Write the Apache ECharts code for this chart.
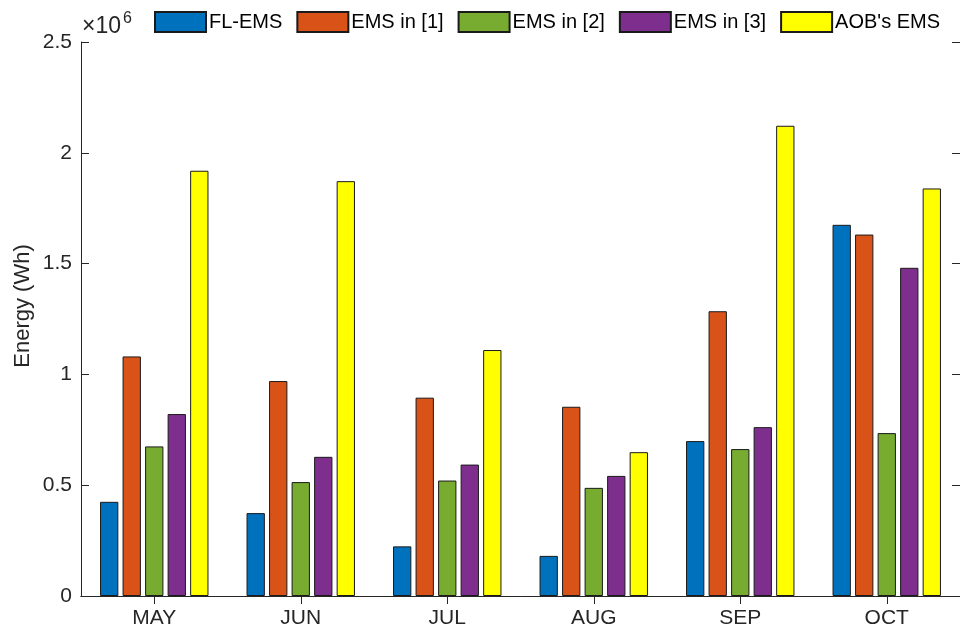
<!DOCTYPE html>
<html>
<head>
<meta charset="utf-8">
<script src="https://cdn.jsdelivr.net/npm/echarts@6/dist/echarts.min.js"></script>
<style>
  html, body { margin: 0; padding: 0; background: #fff; }
  #chart { width: 960px; height: 632px; }
</style>
</head>
<body>
<div id="chart"></div>
<script>
// Monthly energy (Wh) for each energy management scheme
const months = ['MAY', 'JUN', 'JUL', 'AUG', 'SEP', 'OCT'];
const flEms  = [425000, 374000, 224000, 181000, 699000, 1675000];
const ems1   = [1081000, 970000, 895000, 854000, 1285000, 1631000];
const ems2   = [675000, 514000, 521000, 488000, 663000, 735000];
const ems3   = [821000, 628000, 593000, 542000, 762000, 1481000];
const aobEms = [1919000, 1872000, 1110000, 649000, 2122000, 1839000];
const yTicks = [0, 0.5, 1, 1.5, 2, 2.5];   // in units of 10^6

const seriesDefs = [
  { name: 'FL-EMS',      data: flEms,  color: '#0072BD' },
  { name: 'EMS in [1]',  data: ems1,   color: '#D95319' },
  { name: 'EMS in [2]',  data: ems2,   color: '#77AC30' },
  { name: 'EMS in [3]',  data: ems3,   color: '#7E2F8E' },
  { name: "AOB's EMS",   data: aobEms, color: '#FFFF00' }
];

const FONT = "'Liberation Sans', Arial, sans-serif";
const AXIS = '#262626';
const SCALE = 1e6;

const chart = echarts.init(document.getElementById('chart'), null, { renderer: 'canvas' });

const commonAxisLine = { show: true, lineStyle: { color: AXIS, width: 1 } };
const tickStyle = { show: true, inside: true, length: 8, lineStyle: { color: AXIS } };

chart.setOption({
  animation: false,
  textStyle: { fontFamily: FONT },
  grid: { left: 81, right: -3, top: 42, bottom: 36, containLabel: false },
  legend: {
    left: 149, top: 6,
    itemWidth: 51, itemHeight: 20, itemGap: 14,
    icon: 'rect',
    textStyle: { fontFamily: FONT, fontSize: 20, color: '#000', padding: [0, 0, 0, -2] },
    data: seriesDefs.map(s => s.name)
  },
  xAxis: [
    {
      type: 'category', data: months, position: 'bottom',
      axisLine: commonAxisLine,
      axisTick: Object.assign({ alignWithLabel: true }, tickStyle),
      axisLabel: { fontFamily: FONT, fontSize: 21, color: AXIS, margin: 12 },
      splitLine: { show: false }
    },
    {
      type: 'category', data: months, position: 'top',
      axisLine: commonAxisLine,
      axisTick: Object.assign({ alignWithLabel: true }, tickStyle),
      axisLabel: { show: false },
      splitLine: { show: false }
    }
  ],
  yAxis: [
    {
      type: 'value', min: 0, max: 2.5 * SCALE, interval: 0.5 * SCALE,
      axisLine: commonAxisLine,
      axisTick: tickStyle,
      axisLabel: {
        fontFamily: FONT, fontSize: 21, color: AXIS, margin: 9,
        formatter: v => {
          const t = yTicks.find(k => Math.abs(k * SCALE - v) < 1);
          return t === undefined ? '' : String(t);
        }
      },
      splitLine: { show: false }
    },
    {
      type: 'value', min: 0, max: 2.5 * SCALE, interval: 0.5 * SCALE, position: 'right',
      axisLine: commonAxisLine,
      axisTick: tickStyle,
      axisLabel: { show: false },
      splitLine: { show: false }
    }
  ],
  graphic: [
    // y-axis title
    {
      type: 'text', x: 23, y: 306, rotation: Math.PI / 2,
      style: {
        text: 'Energy (Wh)', fontFamily: FONT, fontSize: 22, fill: AXIS,
        align: 'center', verticalAlign: 'middle'
      }
    },
    // axis exponent: ×10^6
    {
      type: 'text', x: 82, y: 27,
      style: {
        text: '\u00d710', fontFamily: FONT, fontSize: 23, fill: AXIS,
        align: 'left', verticalAlign: 'middle'
      }
    },
    {
      type: 'text', x: 123, y: 19,
      style: {
        text: '6', fontFamily: FONT, fontSize: 16, fill: AXIS,
        align: 'left', verticalAlign: 'middle'
      }
    }
  ],
  series: seriesDefs.map(s => ({
    name: s.name,
    type: 'bar',
    xAxisIndex: 0, yAxisIndex: 0,
    data: s.data,
    barGap: '23%',
    barCategoryGap: '26%',
    itemStyle: { color: s.color, borderColor: '#1a1a1a', borderWidth: 1 },
    emphasis: { disabled: true }
  }))
});
</script>
</body>
</html>
